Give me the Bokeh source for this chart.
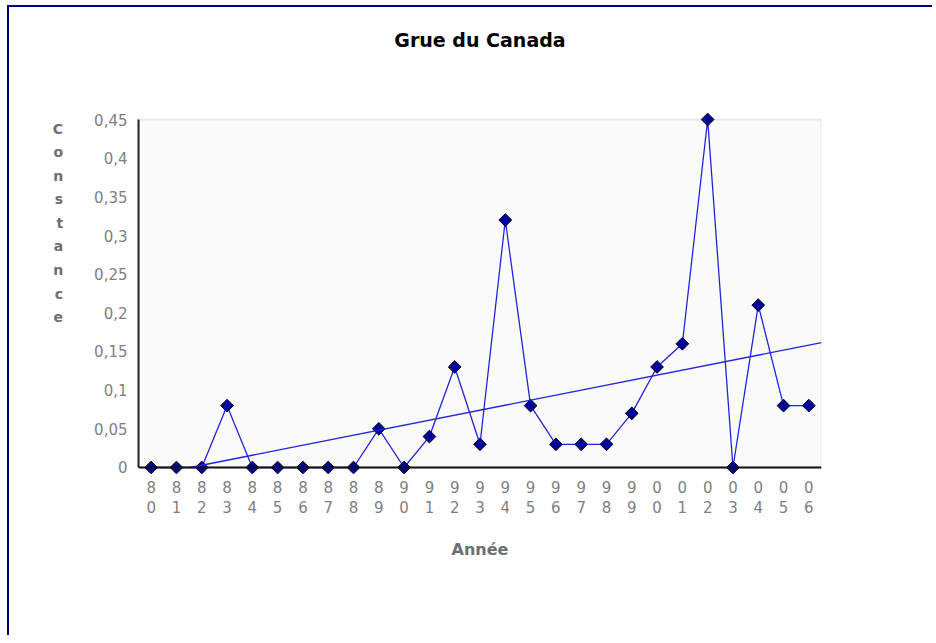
import numpy as np
from bokeh.plotting import figure
from bokeh.models import Range1d, FixedTicker, BoxAnnotation, Span
from bokeh.embed import file_html
from bokeh.resources import INLINE

title_text = "Grue du Canada"
x_title = "Année"
y_title = "Constance"

years = [1980, 1981, 1982, 1983, 1984, 1985, 1986, 1987, 1988, 1989,
         1990, 1991, 1992, 1993, 1994, 1995, 1996, 1997, 1998, 1999,
         2000, 2001, 2002, 2003, 2004, 2005, 2006]
values = [0, 0, 0, 0.08, 0, 0, 0, 0, 0, 0.05,
          0, 0.04, 0.13, 0.03, 0.32, 0.08, 0.03, 0.03, 0.03, 0.07,
          0.13, 0.16, 0.45, 0, 0.21, 0.08, 0.08]
x_tick_labels = ["8\n0", "8\n1", "8\n2", "8\n3", "8\n4", "8\n5", "8\n6", "8\n7", "8\n8", "8\n9",
                 "9\n0", "9\n1", "9\n2", "9\n3", "9\n4", "9\n5", "9\n6", "9\n7", "9\n8", "9\n9",
                 "0\n0", "0\n1", "0\n2", "0\n3", "0\n4", "0\n5", "0\n6"]
y_ticks = [0, 0.05, 0.1, 0.15, 0.2, 0.25, 0.3, 0.35, 0.4, 0.45]
y_tick_labels = ["0", "0,05", "0,1", "0,15", "0,2", "0,25", "0,3", "0,35", "0,4", "0,45"]

FONT = "DejaVu Sans"
LINE_BLUE = "#2323dc"

x_lo, x_hi = years[0] - 0.5, years[-1] + 0.5
y_lo, y_hi = y_ticks[0], y_ticks[-1]
pad = (y_hi - y_lo) * 0.023

p = figure(width=925, height=630, output_backend="svg", toolbar_location=None,
           x_range=Range1d(x_lo, x_hi), y_range=Range1d(y_lo - pad, y_hi + pad),
           min_border_left=129, min_border_right=113, min_border_top=104,
           min_border_bottom=162)
p.styles = {"border-top": "2px solid #000080", "border-left": "2px solid #000080",
            "margin-left": "7px", "margin-top": "5px"}
p.outline_line_color = None
p.background_fill_color = "white"
p.border_fill_color = "white"
p.grid.visible = False

# title (blank trailing lines lift it towards the top of the canvas)
p.title.text = title_text + "\n \n "
p.title.align = "center"
p.title.text_font = FONT
p.title.text_font_size = "19px"
p.title.text_font_style = "bold"
p.title.text_color = "#000000"
p.title.text_line_height = 1.27
p.title.standoff = 10

# plot area background and frame lines
p.add_layout(BoxAnnotation(bottom=y_lo, top=y_hi, fill_color="#fafafa", fill_alpha=1.0,
                           line_color="#c0c0c0", line_width=2, level="underlay"))
p.add_layout(Span(location=y_lo, dimension="width", line_color="#111111", line_width=2))

# x axis
xa = p.xaxis[0]
xa.ticker = FixedTicker(ticks=years)
xa.major_label_overrides = dict(zip(years, x_tick_labels))
xa.axis_line_color = None
xa.major_tick_line_color = None
xa.minor_tick_line_color = None
xa.major_label_standoff = -3
xa.major_label_text_font = FONT
xa.major_label_text_font_size = "15px"
xa.major_label_text_color = "#7f7f7f"
xa.major_label_text_line_height = 1.15
xa.axis_label = x_title
xa.axis_label_text_font = FONT
xa.axis_label_text_font_size = "16px"
xa.axis_label_text_font_style = "bold"
xa.axis_label_text_color = "#6e6e6e"
xa.axis_label_standoff = 20

# y axis
ya = p.yaxis[0]
ya.ticker = FixedTicker(ticks=y_ticks)
ya.major_label_overrides = dict(zip(y_ticks, y_tick_labels))
ya.bounds = (y_lo, y_hi)
ya.axis_line_color = "#222222"
ya.axis_line_width = 2
ya.major_tick_line_color = None
ya.minor_tick_line_color = None
ya.major_label_standoff = 5
ya.major_label_text_font = FONT
ya.major_label_text_font_size = "15px"
ya.major_label_text_color = "#7f7f7f"
ya.axis_label = "\n".join(list(y_title) + [" "] * 6)
ya.axis_label_orientation = "horizontal"
ya.axis_label_text_align = "center"
ya.axis_label_text_font = FONT
ya.axis_label_text_font_size = "14px"
ya.axis_label_text_font_style = "bold"
ya.axis_label_text_color = "#6e6e6e"
ya.axis_label_text_line_height = 1.47
ya.axis_label_standoff = 28

# data line and markers
p.line(years, values, line_color=LINE_BLUE, line_width=1.3)
p.scatter(years, values, marker="square", angle=np.pi / 4, size=9,
          fill_color="#00009a", line_color="#000020", line_width=1)

# linear trend line (computed from the data, clipped at 0)
a, b = np.polyfit(years, values, 1)
x0 = max(-b / a, x_lo)
p.line([x0, x_hi], [a * x0 + b, a * x_hi + b], line_color=LINE_BLUE, line_width=1.3)

open("out.html", "w").write(file_html(p, INLINE))
